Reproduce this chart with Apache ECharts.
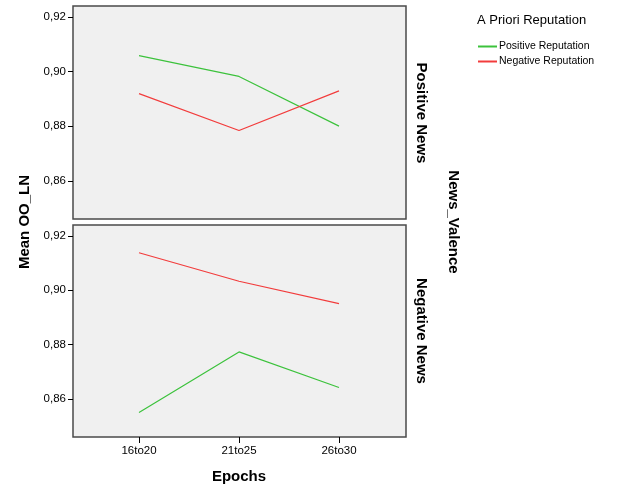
<!DOCTYPE html>
<html>
<head>
<meta charset="utf-8">
<script src="https://cdn.jsdelivr.net/npm/echarts@6/dist/echarts.min.js"></script>
<style>
	html, body { margin: 0; padding: 0; background: #fff; }
	#chart { width: 629px; height: 504px; }
</style>
</head>
<body>
<div id="chart"></div>
<script>
var epochs = ["16to20", "21to25", "26to30"];
var yTicks = [0.86, 0.88, 0.90, 0.92];

// Positive News panel
var posNewsPosRep = [0.9058, 0.8982, 0.8800];
var posNewsNegRep = [0.8919, 0.8784, 0.8929];

// Negative News panel
var negNewsPosRep = [0.8550, 0.8773, 0.8642];
var negNewsNegRep = [0.9138, 0.9033, 0.8951];

var green = "#3cc23c";
var red = "#f23c3c";
var font = "Liberation Sans";

function pairs(values) {
	return values.map(function (v, i) {
		return [i, v];
	});
}

function yAxisFor(gridIndex) {
	return {
		type: "value",
		gridIndex: gridIndex,
		min: 0.846,
		max: 0.924,
		splitLine: { show: false },
		axisLine: { show: false, onZero: false },
		axisTick: {
			show: true,
			length: 5,
			customValues: yTicks,
			lineStyle: { color: "#000" }
		},
		axisLabel: {
			customValues: yTicks,
			color: "#000",
			fontFamily: font,
			fontSize: 11.5,
			margin: 7,
			formatter: function (v) {
				return v.toFixed(2).replace(".", ",");
			}
		}
	};
}

function xAxisFor(gridIndex, showLabels) {
	return {
		type: "value",
		gridIndex: gridIndex,
		min: -0.66,
		max: 2.67,
		splitLine: { show: false },
		axisLine: { show: false, onZero: false },
		axisTick: {
			show: showLabels,
			length: 6,
			customValues: [0, 1, 2],
			lineStyle: { color: "#000" }
		},
		axisLabel: {
			show: showLabels,
			customValues: [0, 1, 2],
			color: "#000",
			fontFamily: font,
			fontSize: 11.5,
			margin: 8,
			formatter: function (v) {
				return epochs[Math.round(v)];
			}
		}
	};
}

function lineSeries(name, values, color, idx) {
	return {
		name: name,
		type: "line",
		xAxisIndex: idx,
		yAxisIndex: idx,
		data: pairs(values),
		symbol: "none",
		lineStyle: { color: color, width: 1.2 },
		itemStyle: { color: color },
		silent: true
	};
}

var gridStyle = {
	left: 73,
	width: 333,
	show: true,
	backgroundColor: "#f0f0f0",
	borderColor: "#4a4a4a",
	borderWidth: 1.5
};

var chart = echarts.init(document.getElementById("chart"));
var option = {
	animation: false,
	backgroundColor: "#fff",
	grid: [
		Object.assign({ top: 6, height: 213 }, gridStyle),
		Object.assign({ top: 225, height: 212 }, gridStyle)
	],
	xAxis: [xAxisFor(0, false), xAxisFor(1, true)],
	yAxis: [yAxisFor(0), yAxisFor(1)],
	legend: {
		orient: "vertical",
		left: 473,
		top: 36,
		itemWidth: 19,
		itemHeight: 2,
		itemGap: 4,
		icon: "rect",
		textStyle: { fontFamily: font, fontSize: 10.5, color: "#000", padding: [0, 0, 0, -3] },
		data: ["Positive Reputation", "Negative Reputation"]
	},
	graphic: [
		{ type: "text", left: 477, top: 14, style: { text: "A Priori Reputation", font: "13px " + font, fill: "#000" } },
		{ type: "text", x: 25, y: 222, rotation: Math.PI / 2, style: { text: "Mean OO_LN", font: "bold 15px " + font, fill: "#000", align: "center", verticalAlign: "middle" } },
		{ type: "text", x: 239, y: 477, style: { text: "Epochs", font: "bold 15px " + font, fill: "#000", align: "center", verticalAlign: "middle" } },
		{ type: "text", x: 421, y: 113, rotation: -Math.PI / 2, style: { text: "Positive News", font: "bold 15px " + font, fill: "#000", align: "center", verticalAlign: "middle" } },
		{ type: "text", x: 421, y: 331, rotation: -Math.PI / 2, style: { text: "Negative News", font: "bold 15px " + font, fill: "#000", align: "center", verticalAlign: "middle" } },
		{ type: "text", x: 453, y: 222, rotation: -Math.PI / 2, style: { text: "News_Valence", font: "bold 15px " + font, fill: "#000", align: "center", verticalAlign: "middle" } }
	],
	series: [
		lineSeries("Positive Reputation", posNewsPosRep, green, 0),
		lineSeries("Negative Reputation", posNewsNegRep, red, 0),
		lineSeries("Positive Reputation", negNewsPosRep, green, 1),
		lineSeries("Negative Reputation", negNewsNegRep, red, 1)
	]
};
chart.setOption(option);
</script>
</body>
</html>
